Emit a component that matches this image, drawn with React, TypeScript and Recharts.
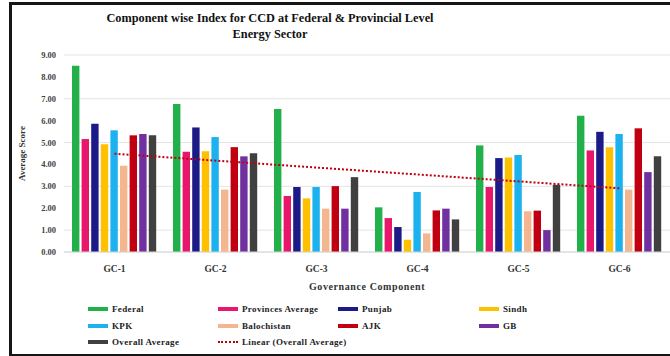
import React from 'react';
import { ComposedChart, Bar, Line, XAxis, YAxis, CartesianGrid } from 'recharts';

const components = ['GC-1', 'GC-2', 'GC-3', 'GC-4', 'GC-5', 'GC-6'];
const federal = [8.51, 6.76, 6.53, 2.04, 4.87, 6.23];
const provincesAverage = [5.16, 4.58, 2.56, 1.55, 2.97, 4.64];
const punjab = [5.86, 5.69, 2.97, 1.14, 4.29, 5.49];
const sindh = [4.92, 4.6, 2.45, 0.56, 4.32, 4.78];
const kpk = [5.56, 5.25, 2.97, 2.74, 4.43, 5.39];
const balochistan = [3.94, 2.85, 1.98, 0.85, 1.86, 2.85];
const ajk = [5.33, 4.79, 3.01, 1.9, 1.89, 5.65];
const gb = [5.39, 4.37, 1.98, 1.98, 1.0, 3.65];
const overallAverage = [5.33, 4.51, 3.42, 1.49, 3.07, 4.37];
// trendline end points
const trendOverall = [4.49, null, null, null, null, 2.91];
const yTicks = [0, 1, 2, 3, 4, 5, 6, 7, 8, 9];

const series = [
  { key: 'federal', name: 'Federal', values: federal, color: '#22b04b' },
  { key: 'provinces', name: 'Provinces Average', values: provincesAverage, color: '#e8176c' },
  { key: 'punjab', name: 'Punjab', values: punjab, color: '#1c1a86' },
  { key: 'sindh', name: 'Sindh', values: sindh, color: '#ffc000' },
  { key: 'kpk', name: 'KPK', values: kpk, color: '#1cb2ef' },
  { key: 'balochistan', name: 'Balochistan', values: balochistan, color: '#f4b68e' },
  { key: 'ajk', name: 'AJK', values: ajk, color: '#c00010' },
  { key: 'gb', name: 'GB', values: gb, color: '#7030a0' },
  { key: 'overall', name: 'Overall Average', values: overallAverage, color: '#404040' },
];

const data = components.map((gc, i) => {
  const row: any = { gc, trend: trendOverall[i] };
  series.forEach((s) => {
    row[s.key] = s.values[i];
  });
  return row;
});

const serif = '"Liberation Serif", "Times New Roman", serif';

const legendCols = [88, 218, 338, 479];
const legendRows = [309, 326, 342];

function LegendBlock() {
  const items = [
    ...series.map((s) => ({ name: s.name, color: s.color, dotted: false })),
    { name: 'Linear (Overall Average)', color: '#c00010', dotted: true },
  ];
  return (
    <>
      {items.map((it, i) => {
        const left = legendCols[i % 4];
        const top = legendRows[Math.floor(i / 4)];
        return (
          <div
            key={it.name}
            style={{
              position: 'absolute',
              left,
              top: top - 7,
              height: 14,
              display: 'flex',
              alignItems: 'center',
              fontFamily: serif,
              fontWeight: 'bold',
              fontSize: 9,
              letterSpacing: 0.35,
              color: '#222',
              whiteSpace: 'nowrap',
            }}
          >
            <span
              style={{
                display: 'inline-block',
                width: 20,
                height: it.dotted ? 0 : 4,
                borderTop: it.dotted ? `2px dotted ${it.color}` : 'none',
                background: it.dotted ? 'none' : it.color,
                marginRight: 4,
              }}
            />
            {it.name}
          </div>
        );
      })}
    </>
  );
}

export default function App() {
  return (
    <div
      style={{
        position: 'absolute',
        left: 0,
        top: 0,
        width: 670,
        height: 356,
        overflow: 'hidden',
        background: '#fff',
      }}
    >
      <div
        style={{
          position: 'absolute',
          left: 9,
          top: 2,
          width: 680,
          height: 349,
          border: '3px solid #161616',
        }}
      />
      <div
        style={{
          position: 'absolute',
          left: 0,
          width: 540,
          top: 10,
          textAlign: 'center',
          fontFamily: serif,
          fontWeight: 'bold',
          fontSize: 12.3,
          lineHeight: '16px',
          color: '#111',
        }}
      >
        Component wise Index for CCD at Federal &amp; Provincial Level
        <br />
        Energy Sector
      </div>
      <div style={{ position: 'absolute', left: 0, top: 0 }}>
        <ComposedChart
          width={670}
          height={292}
          data={data}
          margin={{ top: 55, right: 0, bottom: 0, left: 0 }}
          barGap={2.2}
        >
          <CartesianGrid vertical={false} stroke="#e4e4e4" />
          <XAxis
            dataKey="gc"
            height={40}
            tickLine={false}
            axisLine={{ stroke: '#d6d6d6' }}
            tickMargin={7}
            tick={{ fontFamily: serif, fontWeight: 'bold', fontSize: 9.5, fill: '#333' }}
            label={{
              value: 'Governance Component',
              position: 'insideBottom',
              offset: 2,
              style: { fontFamily: serif, fontWeight: 'bold', fontSize: 10, fill: '#333', letterSpacing: 0.6 },
            }}
          />
          <YAxis
            domain={[0, 9]}
            ticks={yTicks}
            width={64}
            axisLine={false}
            tickLine={false}
            tickFormatter={(v: number) => v.toFixed(2)}
            tick={{ fontFamily: serif, fontWeight: 'bold', fontSize: 8.5, fill: '#444' }}
            label={{
              value: 'Average Score',
              angle: -90,
              position: 'insideLeft',
              offset: 22,
              style: { textAnchor: 'middle', fontFamily: serif, fontWeight: 'bold', fontSize: 9, fill: '#333' },
            }}
          />
          {series.map((s) => (
            <Bar
              key={s.key}
              dataKey={s.key}
              name={s.name}
              fill={s.color}
              barSize={7.4}
              isAnimationActive={false}
            />
          ))}
          <Line
            dataKey="trend"
            name="Linear (Overall Average)"
            stroke="#c00010"
            strokeWidth={2}
            strokeDasharray="2 2"
            dot={false}
            connectNulls
            isAnimationActive={false}
          />
        </ComposedChart>
      </div>
      <LegendBlock />
    </div>
  );
}
